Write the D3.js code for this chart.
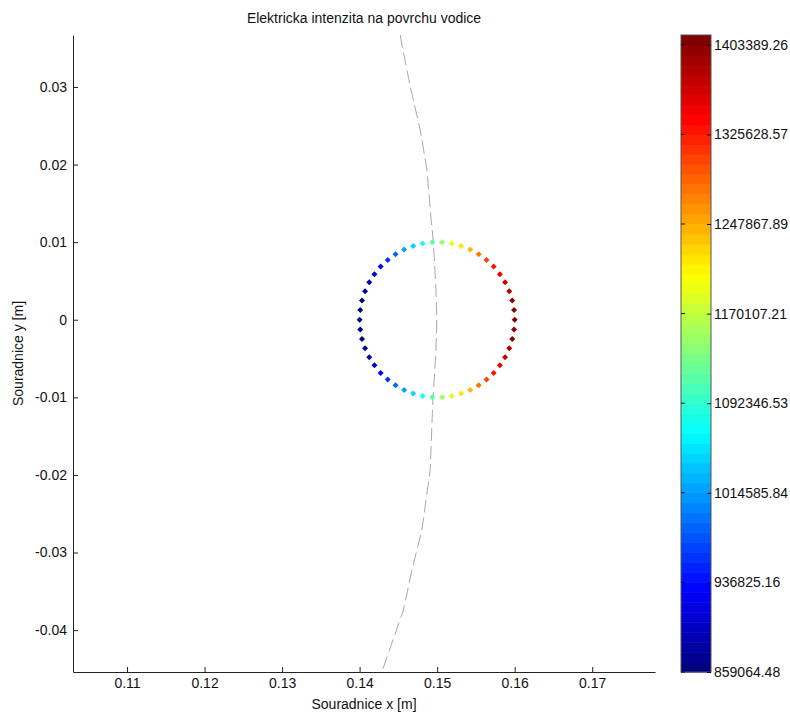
<!DOCTYPE html>
<html>
<head>
<meta charset="utf-8">
<script src="https://cdn.jsdelivr.net/npm/d3@7"></script>
<style>
  body { margin: 0; background: #fff; }
  text { font-family: "Liberation Sans", Arial, sans-serif; font-size: 14px; fill: #111; }
</style>
</head>
<body>
<div id="chart"></div>
<script>
// Points on the conductor surface (m)
const pointX = [0.16, 0.15992, 0.15969, 0.15930, 0.15876, 0.15809, 0.15729, 0.15637, 0.15536, 0.15426,
    0.15309, 0.15187, 0.15063, 0.14937, 0.14813, 0.14691, 0.14574, 0.14464, 0.14363, 0.14271,
    0.14191, 0.14124, 0.14070, 0.14031, 0.14008, 0.14, 0.14008, 0.14031, 0.14070, 0.14124,
    0.14191, 0.14271, 0.14363, 0.14464, 0.14574, 0.14691, 0.14813, 0.14937, 0.15063, 0.15187,
    0.15309, 0.15426, 0.15536, 0.15637, 0.15729, 0.15809, 0.15876, 0.15930, 0.15969, 0.15992];
const pointY = [0, 0.00125, 0.00249, 0.00368, 0.00482, 0.00588, 0.00685, 0.00771, 0.00844, 0.00905,
    0.00951, 0.00982, 0.00998, 0.00998, 0.00982, 0.00951, 0.00905, 0.00844, 0.00771, 0.00685,
    0.00588, 0.00482, 0.00368, 0.00249, 0.00125, 0, -0.00125, -0.00249, -0.00368, -0.00482,
    -0.00588, -0.00685, -0.00771, -0.00844, -0.00905, -0.00951, -0.00982, -0.00998, -0.00998, -0.00982,
    -0.00951, -0.00905, -0.00844, -0.00771, -0.00685, -0.00588, -0.00482, -0.00368, -0.00249, -0.00125];
// Field intensity at each point (V/m)
const pointE = [1403389, 1401242, 1394838, 1384278, 1369726, 1351412, 1329624, 1304709, 1277060, 1247108,
    1215331, 1182225, 1148316, 1114138, 1080229, 1047123, 1015346, 985394, 957745, 932830,
    911042, 892728, 878176, 867616, 861212, 859064, 861212, 867616, 878176, 892728,
    911042, 932830, 957745, 985394, 1015346, 1047123, 1080229, 1114138, 1148316, 1182225,
    1215331, 1247108, 1277060, 1304709, 1329624, 1351412, 1369726, 1384278, 1394838, 1401242];

// Dashed line
const lineX = [0.14525, 0.14544, 0.14652, 0.14781, 0.14867, 0.14919, 0.14952, 0.14983, 0.14996,
    0.14983, 0.14965, 0.14945, 0.14910, 0.14803, 0.14674, 0.14565, 0.14286];
const lineY = [0.0367, 0.0355, 0.0301, 0.0245, 0.0194, 0.0133, 0.0099, 0.0043, 0,
    -0.0043, -0.0074, -0.0103, -0.0194, -0.0271, -0.0323, -0.0374, -0.0454];

const xTicks = [0.11, 0.12, 0.13, 0.14, 0.15, 0.16, 0.17];
const yTicks = [0.03, 0.02, 0.01, 0, -0.01, -0.02, -0.03, -0.04];
const colorTicks = ["859064.48", "936825.16", "1014585.84", "1092346.53", "1170107.21",
    "1247867.89", "1325628.57", "1403389.26"];
// colour limits (top of the bar sits a little above the last tick)
const cMin = 859064.48, cMax = 1411900;

const width = 790, height = 715;
const margin = { top: 35, right: 135, bottom: 43, left: 73 };
const font = "'Liberation Sans', Arial, sans-serif";

const svg = d3.select("#chart").append("svg")
    .attr("width", width)
    .attr("height", height);

const x = d3.scaleLinear().domain([0.10303, 0.1781]).range([margin.left, width - margin.right]);
const y = d3.scaleLinear().domain([-0.0454, 0.0367]).range([height - margin.bottom, margin.top]);

// jet colormap, 64 levels
function jet(t) {
    const c = v => Math.max(0, Math.min(1, v));
    const r = c(Math.min(4 * t - 1.5, -4 * t + 4.5));
    const g = c(Math.min(4 * t - 0.5, -4 * t + 3.5));
    const b = c(Math.min(4 * t + 0.5, -4 * t + 2.5));
    return d3.rgb(r * 255, g * 255, b * 255).toString();
}
const nLevels = 64;
function eColor(v) {
    const i = Math.max(0, Math.min(nLevels - 1, Math.floor((v - cMin) / (cMax - cMin) * nLevels)));
    return jet(i / (nLevels - 1));
}

// Axes
const xAxis = svg.append("g")
    .attr("transform", `translate(0,${height - margin.bottom})`)
    .call(d3.axisBottom(x).tickValues(xTicks).tickSizeInner(-5).tickSizeOuter(0).tickPadding(6)
        .tickFormat(d3.format(".2f")));
const yAxis = svg.append("g")
    .attr("transform", `translate(${margin.left},0)`)
    .call(d3.axisLeft(y).tickValues(yTicks).tickSizeInner(-5).tickSizeOuter(0).tickPadding(6)
        .tickFormat(d => d === 0 ? "0" : d3.format(".2f")(d).replace("\u2212", "-")));
[xAxis, yAxis].forEach(a => {
    a.select(".domain").attr("stroke", "#222");
    a.selectAll(".tick line").attr("stroke", "#222");
    a.selectAll("text").style("font-size", "14px").attr("fill", "#111").style("font-family", font);
});

// Dashed line
const lineData = lineX.map((d, i) => [d, lineY[i]]);
svg.append("path")
    .datum(lineData)
    .attr("d", d3.line().x(d => x(d[0])).y(d => y(d[1])))
    .attr("fill", "none")
    .attr("stroke", "#a8a8a8")
    .attr("stroke-width", 1)
    .attr("stroke-dasharray", "13,5");

// Points
const marker = d3.symbol().type(d3.symbolSquare).size(18);
svg.append("g").selectAll("path")
    .data(pointE.map((e, i) => ({ x: pointX[i], y: pointY[i], e })))
    .join("path")
    .attr("d", marker)
    .attr("transform", d => `translate(${x(d.x)},${y(d.y)}) rotate(45)`)
    .attr("fill", d => eColor(d.e));

// Title and labels
svg.append("text")
    .attr("x", (margin.left + width - margin.right) / 2)
    .attr("y", 23)
    .attr("text-anchor", "middle")
    .text("Elektricka intenzita na povrchu vodice");
svg.append("text")
    .attr("x", (margin.left + width - margin.right) / 2)
    .attr("y", 709)
    .attr("text-anchor", "middle")
    .text("Souradnice x [m]");
svg.append("text")
    .attr("transform", `translate(23,${(margin.top + height - margin.bottom) / 2}) rotate(-90)`)
    .attr("text-anchor", "middle")
    .text("Souradnice y [m]");

// Colorbar
const cbLeft = 681, cbWidth = 30;
const cy = d3.scaleLinear().domain([cMin, cMax]).range([height - margin.bottom, margin.top]);
const step = (cMax - cMin) / nLevels;
svg.append("g").selectAll("rect")
    .data(d3.range(nLevels))
    .join("rect")
    .attr("x", cbLeft)
    .attr("y", i => cy(cMin + (i + 1) * step))
    .attr("width", cbWidth)
    .attr("height", i => cy(cMin + i * step) - cy(cMin + (i + 1) * step) + 0.5)
    .attr("fill", i => jet(i / (nLevels - 1)));
svg.append("rect")
    .attr("x", cbLeft)
    .attr("y", margin.top)
    .attr("width", cbWidth)
    .attr("height", height - margin.bottom - margin.top)
    .attr("fill", "none")
    .attr("stroke", "#555");
const cbAxis = svg.append("g")
    .attr("transform", `translate(${cbLeft + cbWidth},0)`)
    .call(d3.axisRight(cy).tickValues(colorTicks.map(Number)).tickSizeInner(-4).tickSizeOuter(0).tickPadding(3)
        .tickFormat((d, i) => colorTicks[i]));
cbAxis.select(".domain").remove();
cbAxis.selectAll(".tick line").attr("stroke", "#111");
cbAxis.selectAll("text").style("font-size", "14px").attr("fill", "#111").style("font-family", font);
// left-side ticks on colorbar
svg.append("g").selectAll("line")
    .data(colorTicks.map(Number))
    .join("line")
    .attr("x1", cbLeft).attr("x2", cbLeft + 4)
    .attr("y1", d => cy(d)).attr("y2", d => cy(d))
    .attr("stroke", "#111");
</script>
</body>
</html>
